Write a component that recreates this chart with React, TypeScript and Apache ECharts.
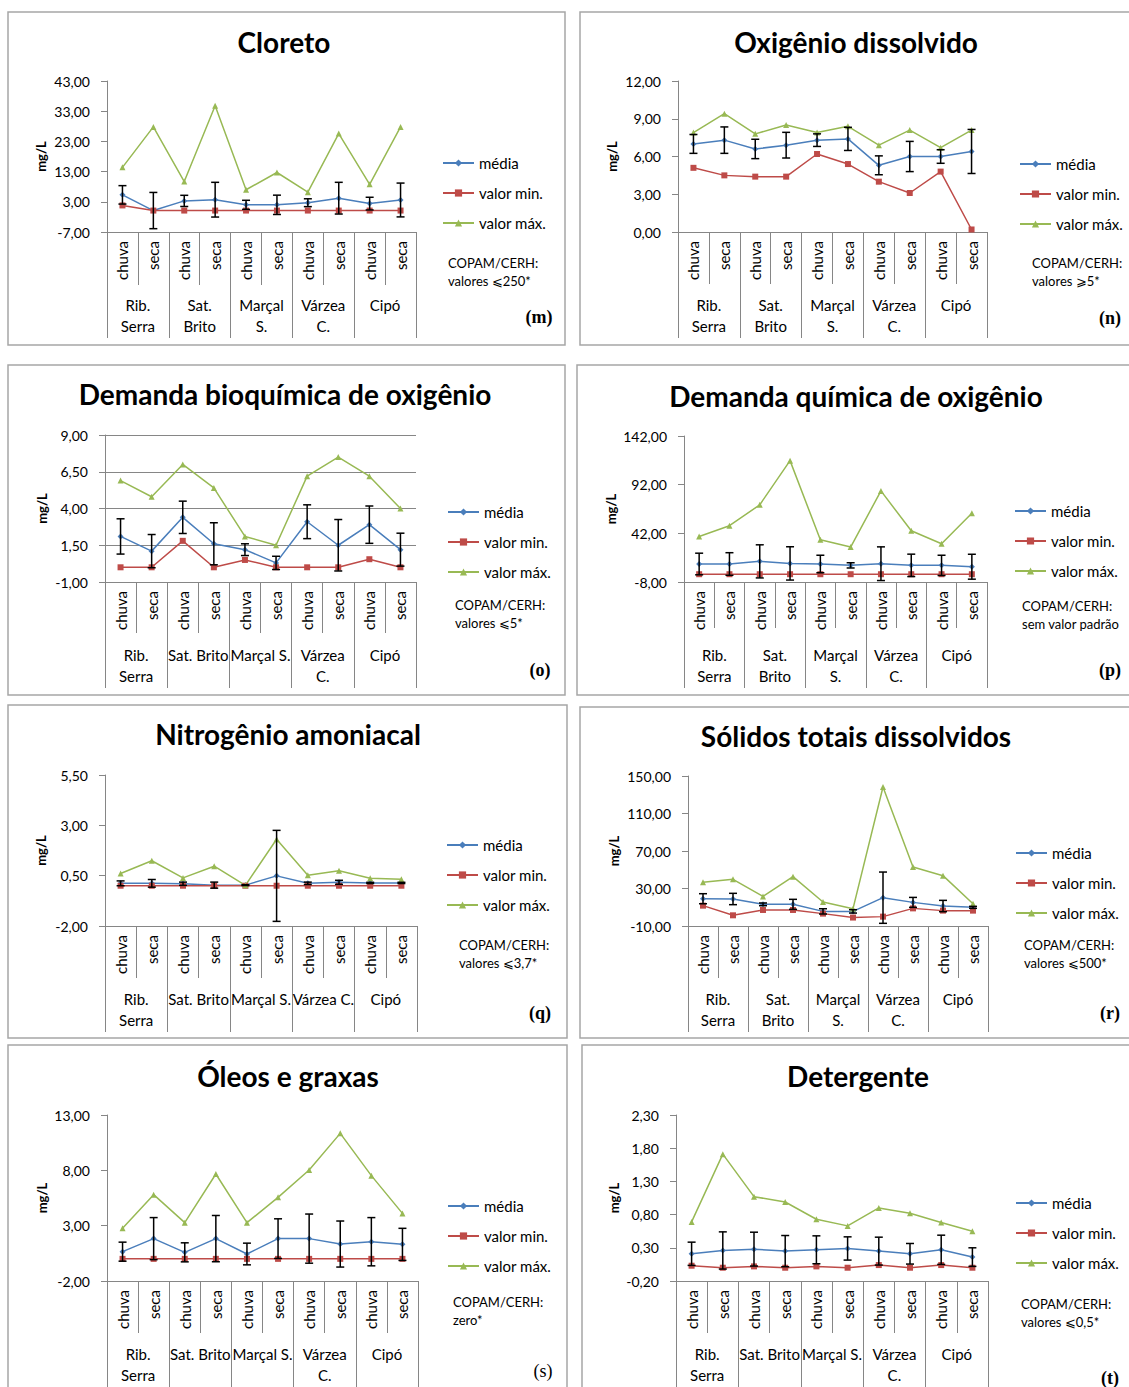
import React, { useEffect, useRef } from 'react';
import * as echarts from 'echarts';

// ---------- data ----------
const categorias = ['chuva', 'seca', 'chuva', 'seca', 'chuva', 'seca', 'chuva', 'seca', 'chuva', 'seca'];
const estacoesDuasLinhas = ['Rib.\nSerra', 'Sat.\nBrito', 'Marçal\nS.', 'Várzea\nC.', 'Cipó'];
const estacoesMistas = ['Rib.\nSerra', 'Sat. Brito', 'Marçal S.', 'Várzea\nC.', 'Cipó'];
const estacoesUmaLinha = ['Rib.\nSerra', 'Sat. Brito', 'Marçal S.', 'Várzea C.', 'Cipó'];
const nomesSeries = ['média', 'valor min.', 'valor máx.'];

// (m) Cloreto
const cloretoTicks = [-7, 3, 13, 23, 33, 43];
const cloretoMedia = [5.3, 0.1, 3.3, 3.7, 2.0, 2.0, 2.7, 4.2, 2.4, 3.6];
const cloretoDp = [3.05, 6.0, 1.85, 5.75, 1.5, 3.2, 1.3, 5.25, 2.1, 5.6];
const cloretoMin = [1.8, 0.1, 0.1, 0.1, 0.1, 0.1, 0.1, 0.1, 0.1, 0.1];
const cloretoMax = [14.4, 27.8, 9.7, 34.8, 7.0, 12.7, 6.2, 25.6, 8.8, 27.8];

// (n) Oxigênio dissolvido
const odTicks = [0, 3, 6, 9, 12];
const odMedia = [7.0, 7.3, 6.6, 6.9, 7.3, 7.4, 5.3, 6.0, 6.0, 6.4];
const odDp = [0.75, 1.05, 0.77, 1.02, 0.5, 0.92, 0.75, 1.2, 0.54, 1.75];
const odMin = [5.1, 4.5, 4.4, 4.4, 6.2, 5.4, 4.0, 3.1, 4.8, 0.2];
const odMax = [7.9, 9.4, 7.8, 8.5, 7.9, 8.4, 6.9, 8.1, 6.7, 8.1];

// (o) DBO
const dboTicks = [-1, 1.5, 4, 6.5, 9];
const dboMedia = [2.1, 1.1, 3.4, 1.6, 1.2, 0.3, 3.1, 1.5, 2.9, 1.2];
const dboDp = [1.2, 1.13, 1.1, 1.43, 0.4, 0.45, 1.15, 1.75, 1.27, 1.12];
const dboMin = [0.0, 0.0, 1.8, 0.0, 0.5, 0.0, 0.0, 0.0, 0.55, 0.0];
const dboMax = [5.9, 4.8, 7.0, 5.4, 2.1, 1.5, 6.2, 7.5, 6.2, 4.0];

// (p) DQO
const dqoTicks = [-8, 42, 92, 142];
const dqoMedia = [10.5, 10.5, 13.2, 11.1, 10.5, 9.1, 10.8, 9.1, 9.1, 7.7];
const dqoDp = [11.1, 11.6, 17.0, 17.1, 9.0, 2.7, 17.3, 11.5, 10.4, 12.8];
const dqoMin = [0, 0, 0, 0, 0, 0, 0, 0, 0, 0];
const dqoMax = [38.8, 49.8, 71.3, 116.7, 35.4, 27.9, 85.6, 44.6, 31.3, 62.7];

// (q) Nitrogênio amoniacal
const nitTicks = [-2, 0.5, 3, 5.5];
const nitMedia = [0.12, 0.12, 0.1, 0.03, 0.03, 0.49, 0.12, 0.17, 0.14, 0.14];
const nitDp = [0.12, 0.19, 0.08, 0.15, 0.02, 2.26, 0.06, 0.1, 0.03, 0.03];
const nitMin = [0, 0, 0, 0, 0, 0, 0, 0, 0, 0];
const nitMax = [0.61, 1.24, 0.39, 0.97, 0.02, 2.31, 0.52, 0.74, 0.37, 0.32];

// (r) Sólidos totais dissolvidos
const stdTicks = [-10, 30, 70, 110, 150];
const stdMedia = [19.1, 18.8, 13.1, 13.1, 5.6, 5.6, 20.2, 15.2, 11.3, 9.9];
const stdDp = [5.35, 6.05, 1.45, 5.35, 2.8, 1.8, 27.35, 5.3, 6.05, 1.05];
const stdMin = [11.7, 1.4, 7.1, 7.1, 3.2, -1.0, 0.0, 8.8, 6.4, 6.4];
const stdMax = [36.6, 39.8, 21.6, 42.6, 15.6, 8.5, 138.3, 52.9, 43.7, 13.8];

// (s) Óleos e graxas
const oleoTicks = [-2, 3, 8, 13];
const oleoMedia = [0.65, 1.83, 0.59, 1.83, 0.44, 1.83, 1.83, 1.34, 1.55, 1.31];
const oleoDp = [0.86, 1.9, 0.86, 2.09, 0.98, 1.79, 2.22, 2.08, 2.18, 1.45];
const oleoMin = [0, 0, 0, 0, 0, 0, 0, 0, 0, 0];
const oleoMax = [2.76, 5.8, 3.27, 7.67, 3.27, 5.56, 8.03, 11.34, 7.52, 4.11];

// (t) Detergente
const detTicks = [-0.2, 0.3, 0.8, 1.3, 1.8, 2.3];
const detMedia = [0.21, 0.26, 0.28, 0.25, 0.27, 0.29, 0.25, 0.21, 0.27, 0.16];
const detDp = [0.175, 0.28, 0.255, 0.235, 0.21, 0.175, 0.21, 0.155, 0.22, 0.14];
const detMin = [0.03, 0.0, 0.02, 0.0, 0.02, 0.0, 0.04, 0.0, 0.04, 0.0];
const detMax = [0.69, 1.71, 1.07, 0.99, 0.73, 0.63, 0.9, 0.82, 0.68, 0.55];

// ---------- style / layout ----------
const FONT = 'Lato, "Open Sans", sans-serif';
const SERIF = '"Liberation Serif", "DejaVu Serif", serif';
const AZUL = '#4a7ebb';
const VERMELHO = '#be4b48';
const VERDE = '#98b954';
const EIXO = '#868686';
const BORDA = '#a6a6a6';

const panels = [
  { title: 'Cloreto', ticks: cloretoTicks, media: cloretoMedia, dp: cloretoDp, min: cloretoMin, max: cloretoMax, estacoes: estacoesDuasLinhas,
    nota: ['COPAM/CERH:', 'valores ⩽250*'], letra: '(m)', letraBold: true,
    box: [8, 12, 557, 333], grid: [107, 81, 309, 151], titleXY: [284, 42], legendXY: [442, 163], notaXY: [448, 263], letraXY: [539, 317],
    innerTick: 53, groupTick: 106, nameGap: 60, grade: false },
  { title: 'Oxigênio dissolvido', ticks: odTicks, media: odMedia, dp: odDp, min: odMin, max: odMax, estacoes: estacoesDuasLinhas,
    nota: ['COPAM/CERH:', 'valores ⩾5*'], letra: '(n)', letraBold: true,
    box: [580, 12, 560, 333], grid: [678, 81, 309, 151], titleXY: [856, 42], legendXY: [1019, 164], notaXY: [1032, 263], letraXY: [1110, 318],
    innerTick: 52, groupTick: 106, nameGap: 60, grade: false },
  { title: 'Demanda bioquímica de oxigênio', ticks: dboTicks, media: dboMedia, dp: dboDp, min: dboMin, max: dboMax, estacoes: estacoesMistas,
    nota: ['COPAM/CERH:', 'valores ⩽5*'], letra: '(o)', letraBold: true,
    box: [8, 365, 557, 330], grid: [105, 435, 311, 147], titleXY: [285, 394], legendXY: [447, 512], notaXY: [455, 605], letraXY: [540, 670],
    innerTick: 51, groupTick: 106, nameGap: 57, grade: true },
  { title: 'Demanda química de oxigênio', ticks: dqoTicks, media: dqoMedia, dp: dqoDp, min: dqoMin, max: dqoMax, estacoes: estacoesDuasLinhas,
    nota: ['COPAM/CERH:', 'sem valor padrão'], letra: '(p)', letraBold: true,
    box: [577, 365, 560, 330], grid: [684, 436, 303, 146], titleXY: [856, 396], legendXY: [1014, 511], notaXY: [1022, 606], letraXY: [1110, 670],
    innerTick: 46, groupTick: 106, nameGap: 67, grade: false },
  { title: 'Nitrogênio amoniacal', ticks: nitTicks, media: nitMedia, dp: nitDp, min: nitMin, max: nitMax, estacoes: estacoesUmaLinha,
    nota: ['COPAM/CERH:', 'valores ⩽3,7*'], letra: '(q)', letraBold: true,
    box: [8, 705, 559, 333], grid: [105, 775, 312, 151], titleXY: [288, 734], legendXY: [446, 845], notaXY: [459, 945], letraXY: [540, 1013],
    innerTick: 52, groupTick: 106, nameGap: 58, grade: false },
  { title: 'Sólidos totais dissolvidos', ticks: stdTicks, media: stdMedia, dp: stdDp, min: stdMin, max: stdMax, estacoes: estacoesDuasLinhas,
    nota: ['COPAM/CERH:', 'valores ⩽500*'], letra: '(r)', letraBold: true,
    box: [580, 707, 560, 331], grid: [688, 776, 300, 150], titleXY: [856, 736], legendXY: [1015, 853], notaXY: [1024, 945], letraXY: [1110, 1013],
    innerTick: 52, groupTick: 106, nameGap: 68, grade: false },
  { title: 'Óleos e graxas', ticks: oleoTicks, media: oleoMedia, dp: oleoDp, min: oleoMin, max: oleoMax, estacoes: estacoesMistas,
    nota: ['COPAM/CERH:', 'zero*'], letra: '(s)', letraBold: false,
    box: [8, 1045, 559, 360], grid: [107, 1115, 311, 166], titleXY: [288, 1076], legendXY: [447, 1206], notaXY: [453, 1302], letraXY: [543, 1371],
    innerTick: 52, groupTick: 110, nameGap: 59, grade: false },
  { title: 'Detergente', ticks: detTicks, media: detMedia, dp: detDp, min: detMin, max: detMax, estacoes: estacoesMistas,
    nota: ['COPAM/CERH:', 'valores ⩽0,5*'], letra: '(t)', letraBold: true,
    box: [582, 1045, 560, 360], grid: [676, 1115, 312, 166], titleXY: [858, 1076], legendXY: [1015, 1203], notaXY: [1021, 1304], letraXY: [1110, 1378],
    innerTick: 52, groupTick: 110, nameGap: 56, grade: false },
];

const fmt = (v: number) => v.toFixed(2).replace('.', ',');

const renderErro = (params: any, api: any) => {
  const lo = api.coord([api.value(0), api.value(1)]);
  const hi = api.coord([api.value(0), api.value(2)]);
  const h = 4;
  const style = { stroke: '#000', lineWidth: 1.5 };
  return {
    type: 'group',
    children: [
      { type: 'line', shape: { x1: lo[0], y1: lo[1], x2: hi[0], y2: hi[1] }, style },
      { type: 'line', shape: { x1: lo[0] - h, y1: lo[1], x2: lo[0] + h, y2: lo[1] }, style },
      { type: 'line', shape: { x1: hi[0] - h, y1: hi[1], x2: hi[0] + h, y2: hi[1] }, style },
    ],
  };
};

function buildOption() {
  const grid: any[] = [];
  const xAxis: any[] = [];
  const yAxis: any[] = [];
  const series: any[] = [];
  const legend: any[] = [];
  const graphic: any[] = [];

  panels.forEach((p, i) => {
    grid.push({ left: p.grid[0], top: p.grid[1], width: p.grid[2], height: p.grid[3], containLabel: false, outerBoundsMode: 'none' });
    xAxis.push({
      type: 'category', gridIndex: i, position: 'bottom', data: categorias, boundaryGap: true,
      axisLine: { show: true, onZero: false, lineStyle: { color: EIXO, width: 1 } },
      axisTick: { show: true, interval: 0, length: p.innerTick, lineStyle: { color: EIXO, width: 1 } },
      axisLabel: { interval: 0, rotate: 90, margin: 9, fontSize: 15, color: '#000', fontFamily: FONT },
      splitLine: { show: false },
    });
    xAxis.push({
      type: 'category', gridIndex: i, position: 'bottom', data: p.estacoes, boundaryGap: true,
      axisLine: { show: false, onZero: false },
      axisTick: { show: true, interval: 0, length: p.groupTick, lineStyle: { color: EIXO, width: 1 } },
      axisLabel: { interval: 0, margin: 62, lineHeight: 21, fontSize: 15, color: '#000', fontFamily: FONT },
      splitLine: { show: false },
    });
    yAxis.push({
      type: 'value', gridIndex: i, min: p.ticks[0], max: p.ticks[p.ticks.length - 1],
      name: 'mg/L', nameLocation: 'middle', nameGap: p.nameGap,
      nameTextStyle: { fontWeight: 'bold', fontSize: 13, color: '#000', fontFamily: FONT },
      axisLine: { show: true, lineStyle: { color: EIXO, width: 1 } },
      axisTick: { show: true, length: 6, customValues: p.ticks, lineStyle: { color: EIXO } },
      axisLabel: { customValues: p.ticks, formatter: fmt, margin: 17, fontSize: 14, color: '#000', fontFamily: FONT },
      splitLine: { show: p.grade, lineStyle: { color: EIXO, width: 1 } },
    });
    const xi = i * 2;
    series.push({
      type: 'line', name: nomesSeries[0], xAxisIndex: xi, yAxisIndex: i, data: p.media,
      symbol: 'diamond', symbolSize: 6, itemStyle: { color: AZUL }, lineStyle: { color: AZUL, width: 1.5 }, z: 3,
    });
    series.push({
      type: 'line', name: nomesSeries[1], xAxisIndex: xi, yAxisIndex: i, data: p.min,
      symbol: 'rect', symbolSize: 6, itemStyle: { color: VERMELHO }, lineStyle: { color: VERMELHO, width: 1.5 }, z: 3,
    });
    series.push({
      type: 'line', name: nomesSeries[2], xAxisIndex: xi, yAxisIndex: i, data: p.max,
      symbol: 'triangle', symbolSize: 6, itemStyle: { color: VERDE }, lineStyle: { color: VERDE, width: 1.5 }, z: 3,
    });
    series.push({
      type: 'custom', name: 'desvio padrão', xAxisIndex: xi, yAxisIndex: i, clip: true, z: 4,
      data: p.media.map((m, j) => [j, m - p.dp[j], m + p.dp[j]]),
      encode: { x: 0, y: [1, 2] },
      renderItem: renderErro,
    });
    legend.push({
      data: nomesSeries, orient: 'vertical', left: p.legendXY[0], top: p.legendXY[1] - 8, padding: 0,
      itemWidth: 31, itemHeight: 9, itemGap: 14, selectedMode: false,
      textStyle: { fontSize: 15, lineHeight: 16, color: '#000', fontFamily: FONT },
    });
    graphic.push({
      type: 'rect', silent: true, z: 0,
      shape: { x: p.box[0], y: p.box[1], width: p.box[2], height: p.box[3] },
      style: { fill: 'none', stroke: BORDA, lineWidth: 1.5 },
    });
    graphic.push({
      type: 'text', x: p.titleXY[0], y: p.titleXY[1],
      style: { text: p.title, fill: '#000', fontSize: 28, fontWeight: 'bold', fontFamily: FONT, align: 'center', verticalAlign: 'middle' },
    });
    p.nota.forEach((linha, k) => {
      graphic.push({
        type: 'text', x: p.notaXY[0], y: p.notaXY[1] + k * 18,
        style: { text: linha, fill: '#000', fontSize: 13, fontFamily: FONT, align: 'left', verticalAlign: 'middle' },
      });
    });
    graphic.push({
      type: 'text', x: p.letraXY[0], y: p.letraXY[1],
      style: { text: p.letra, fill: '#000', fontSize: 18, fontWeight: p.letraBold ? 'bold' : 'normal', fontFamily: SERIF, align: 'center', verticalAlign: 'middle' },
    });
  });

  return {
    animation: false,
    backgroundColor: '#ffffff',
    textStyle: { fontFamily: FONT },
    grid, xAxis, yAxis, series, legend, graphic,
  };
}

export default function App() {
  const ref = useRef<HTMLDivElement>(null);
  useEffect(() => {
    if (!ref.current) return;
    const chart = echarts.init(ref.current, null, { renderer: 'svg' });
    chart.setOption(buildOption() as any);
    return () => chart.dispose();
  }, []);
  return (
    <div
      ref={ref}
      style={{ position: 'absolute', left: 0, top: 0, width: 1129, height: 1387, background: '#fff' }}
    />
  );
}
